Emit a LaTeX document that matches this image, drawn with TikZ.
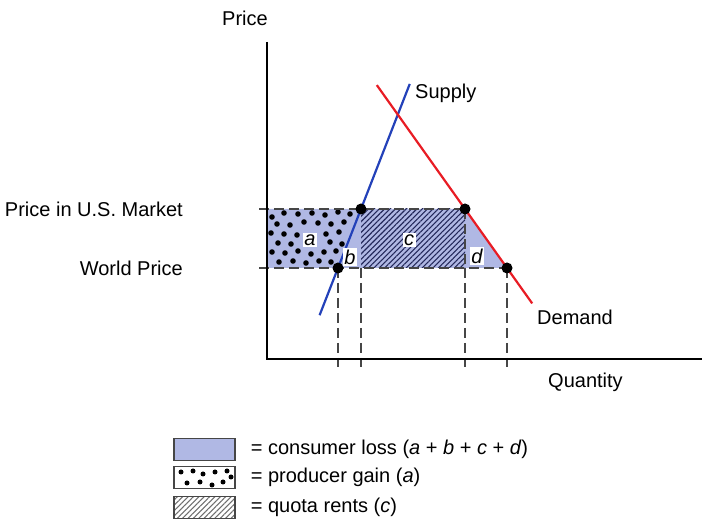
\documentclass[tikz,border=0pt]{standalone}
\usepackage{fontspec}
\setmainfont{Liberation Sans}
\usetikzlibrary{calc,patterns.meta,positioning}
\definecolor{lossblue}{RGB}{176,184,228}
\definecolor{supplyblue}{RGB}{35,65,185}
\definecolor{demandred}{RGB}{232,28,36}
\definecolor{hatchnavy}{RGB}{35,40,90}
\definecolor{dashgray}{RGB}{70,70,70}
\definecolor{legendgray}{RGB}{110,110,110}

\begin{document}
\begin{tikzpicture}[x=1pt,y=1pt,
  every node/.style={font=\fontsize{20}{23}\selectfont, inner sep=0pt},
  axis/.style={black, line width=2.2pt},
  curve/.style={line width=2.2pt},
  guide/.style={dashgray, line width=1.2pt, dash pattern=on 10pt off 5pt},
  eqpt/.style={circle, fill=black, minimum size=11pt},
  area/.style={fill=white, inner sep=1.5pt, font=\fontsize{20}{23}\selectfont\itshape},
  legbox/.style={draw=dashgray, line width=1.2pt, minimum width=61pt, minimum height=22pt},
  hatch/.style={pattern={Lines[angle=45,distance=3.8pt,line width=1.1pt]}}]
\useasboundingbox (0,0) rectangle (716,-529);
% points where the price lines meet supply and demand
\coordinate (p1) at (338,-268);
\coordinate (p2) at (361,-209);
\coordinate (q1) at (465,-209);
\coordinate (q2) at (507,-268);
\coordinate (sb) at ($(p1)!-0.8!(p2)$);
\coordinate (st) at ($(p1)!3.12!(p2)$);
\coordinate (dt) at ($(q1)!-2.1!(q2)$);
\coordinate (db) at ($(q1)!1.6!(q2)$);
\coordinate (o) at (267,-359);
\coordinate (ytop) at (267,-42);
\coordinate (xend) at (702,-359);
\coordinate (au) at (267,-209);
\coordinate (aw) at (267,-268);
\coordinate (hu) at (259,-209);
\coordinate (hw) at (259,-268);
\coordinate (bot) at (0,-367);
% consumer loss
\fill [lossblue] (au) -- (q1) -- (q2) -- (aw) -- cycle;
% producer gain
\begin{scope}
\clip (au) -- (p2) -- (p1) -- (aw) -- cycle;
\fill [black] (272,-217) circle (2.8) (284,-213) circle (2.8) (298,-214) circle (2.8)
  (312,-213) circle (2.8) (325,-215) circle (2.8) (338,-212) circle (2.8) (350,-214) circle (2.8)
  (277,-224) circle (2.8) (290,-225) circle (2.8) (304,-222) circle (2.8) (318,-223) circle (2.8)
  (331,-224) circle (2.8) (344,-222) circle (2.8)
  (271,-233) circle (2.8) (284,-234) circle (2.8) (297,-235) circle (2.8) (326,-234) circle (2.8)
  (339,-232) circle (2.8)
  (278,-243) circle (2.8) (291,-244) circle (2.8) (330,-242) circle (2.8) (342,-244) circle (2.8)
  (272,-252) circle (2.8) (285,-253) circle (2.8) (298,-251) circle (2.8) (311,-254) circle (2.8)
  (324,-252) circle (2.8) (336,-251) circle (2.8)
  (279,-262) circle (2.8) (293,-261) circle (2.8) (306,-263) circle (2.8) (319,-261) circle (2.8)
  (331,-262) circle (2.8);
\end{scope}
% quota rents
\fill [hatch, pattern color=hatchnavy] (p2) rectangle (q1 |- q2);
% dashed guides
\draw [guide] (hu) -- (q1);
\draw [guide] (hw) -- (q2);
\draw [guide] (q1) -- (q1 |- q2);
\draw [guide] (p1) -- (p1 |- bot);
\draw [guide] (p2 |- p1) -- (p2 |- bot);
\draw [guide] (q1 |- q2) -- (q1 |- bot);
\draw [guide] (q2) -- (q2 |- bot);
% supply and demand
\draw [curve, supplyblue] (sb) -- (st);
\draw [curve, demandred] (dt) -- (db);
% axes
\draw [axis] (ytop) -- (o) -- (xend);
\node [eqpt] (e1) at (p1) {};
\node [eqpt] (e2) at (p2) {};
\node [eqpt] (e3) at (q1) {};
\node [eqpt] (e4) at (q2) {};
\node [area] (la) at (310,-240) {a};
\node [area] (lb) at (350,-257) {b};
\node [area] (lc) at (409,-240) {c};
\node [area] (ld) at (477,-256) {d};
\node (price) at (245,-18) {Price};
\node [anchor=east] (pus) at (183,-209) {Price in U.S. Market};
\node [anchor=east] (pw) at (183,-268) {World Price};
\node [anchor=west] (supply) at (415,-93) {Supply};
\node [anchor=west] (demand) at (537,-317) {Demand};
\node [anchor=west] (qty) at (548,-382) {Quantity};
% legend
\node [legbox, fill=lossblue] (lb1) at (204.5,-449.5) {};
\node [legbox, fill=white] (lb2) at (204.5,-477.5) {};
\node [legbox, hatch, pattern color=legendgray] (lb3) at (204.5,-507.5) {};
\fill [black] (181,-472) circle (2.5) (193,-471) circle (2.5) (203,-474) circle (2.5)
  (215,-472) circle (2.5) (227,-471) circle (2.5) (187,-483) circle (2.5) (200,-482) circle (2.5)
  (212,-485) circle (2.5) (223,-482) circle (2.5) (231,-477) circle (2.5);
\node [right=15pt of lb1] (t1) {= consumer loss (\textit{a} + \textit{b} + \textit{c} + \textit{d})};
\node [right=15pt of lb2] (t2) {= producer gain (\textit{a})};
\node [right=15pt of lb3] (t3) {= quota rents (\textit{c})};
\end{tikzpicture}
\end{document}
